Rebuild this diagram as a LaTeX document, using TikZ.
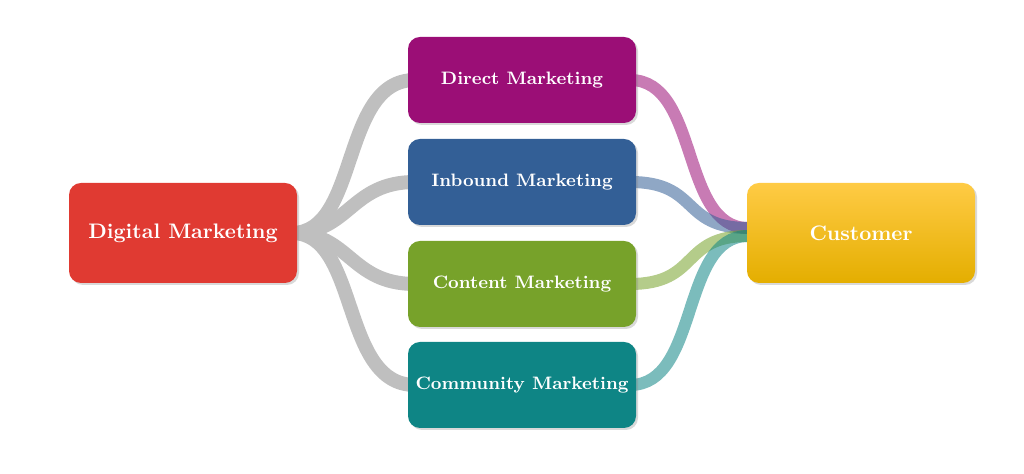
\documentclass[tikz,border=0pt]{standalone}
\usetikzlibrary{shadows}
\begin{document}
\begin{tikzpicture}[x=0.5pt,y=-0.5pt,
  box/.style={rounded corners=6pt,minimum width=114pt,minimum height=43pt,text=white,font=\bfseries\fontsize{9}{11}\selectfont,inner sep=0pt,drop shadow={shadow xshift=1pt,shadow yshift=-1pt,opacity=0.3}},
  big/.style={box,minimum height=50pt,font=\bfseries\fontsize{10.5}{12}\selectfont},
  gray link/.style={line width=7pt,draw=black!25},
  col link/.style={line width=6pt,opacity=0.55}]
\useasboundingbox (0,0) rectangle (1024,474);
\definecolor{cred}{HTML}{E03A32}
\definecolor{cpur}{HTML}{9B0E76}
\definecolor{cblu}{HTML}{335F96}
\definecolor{cgrn}{HTML}{77A22A}
\definecolor{cteal}{HTML}{0E8585}
\definecolor{cyt}{HTML}{FFCB45}
\definecolor{cyb}{HTML}{E4AE00}
% connectors first (behind)
\coordinate (dm) at (292,233);
\coordinate (c1) at (748,228);
\coordinate (c2) at (748,236);
\draw[gray link] (dm) .. controls (360,233) and (340,80) .. (415,80);
\draw[gray link] (dm) .. controls (350,233) and (350,182) .. (415,182);
\draw[gray link] (dm) .. controls (350,233) and (350,284) .. (415,284);
\draw[gray link] (dm) .. controls (360,233) and (340,385) .. (415,385);
\draw[col link,draw=cpur] (630,80) .. controls (700,80) and (680,228) .. (c1);
\draw[col link,draw=cblu] (630,182) .. controls (700,182) and (680,228) .. (c1);
\draw[col link,draw=cgrn] (630,284) .. controls (700,284) and (680,236) .. (c2);
\draw[col link,draw=cteal] (630,385) .. controls (700,385) and (680,236) .. (c2);
\node[big,fill=cred] (d) at (183,233) {Digital Marketing};
\node[box,fill=cpur] (a) at (522,80) {Direct Marketing};
\node[box,fill=cblu] (b) at (522,182) {Inbound Marketing};
\node[box,fill=cgrn] (c) at (522,284) {Content Marketing};
\node[box,fill=cteal] (e) at (522,385) {Community Marketing};
\node[big,top color=cyt,bottom color=cyb] (f) at (861,233) {Customer};
\end{tikzpicture}
\end{document}
